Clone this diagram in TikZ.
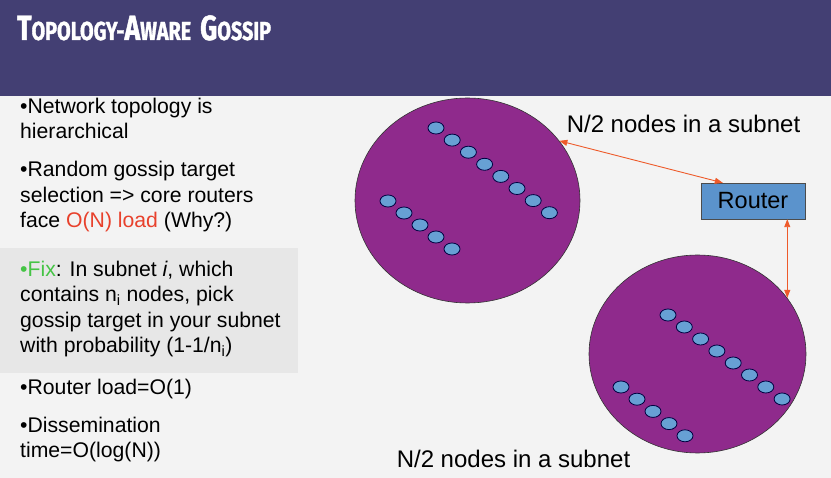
\documentclass[tikz,border=0pt]{standalone}
\usepackage{fontspec}
\setmainfont{Liberation Sans}
\newfontfamily\titlefont[FakeStretch=0.76,BoldFeatures={FakeBold=1.2}]{Fira Sans}
\usepackage{tikz}
\usetikzlibrary{arrows.meta,positioning,shapes.geometric}
\definecolor{banner}{HTML}{433F73}
\definecolor{slidebg}{HTML}{F3F3F3}
\definecolor{fixbg}{HTML}{E7E7E7}
\definecolor{subnetfill}{HTML}{8F2A8C}
\definecolor{hostfill}{HTML}{67A0D4}
\definecolor{routerfill}{HTML}{5B93CC}
\definecolor{linkred}{HTML}{EE5A2A}
\definecolor{loadred}{HTML}{E8412C}
\definecolor{fixgreen}{HTML}{45C445}
\newcommand{\capword}[2]{{\fontsize{35}{35}\selectfont #1}{\fontsize{26}{26}\selectfont #2}}
\tikzset{
  bullet/.style  ={anchor=base west,align=left,inner sep=0pt,font=\fontsize{21.2}{25.6}\selectfont},
  subnet/.style  ={draw=black!80,ellipse,fill=subnetfill,inner sep=0pt,line width=0.6pt},
  host/.style    ={draw=blue!25!black,ellipse,fill=hostfill,minimum width=16pt,minimum height=12pt,inner sep=0pt,line width=0.8pt},
  router/.style  ={draw=black!70,fill=routerfill,minimum width=104pt,minimum height=36pt,font=\fontsize{23.5}{26}\selectfont},
  caption/.style ={font=\fontsize{24}{28}\selectfont,inner sep=0pt},
  link/.style    ={{Triangle[length=8pt,width=6pt]}-{Triangle[length=8pt,width=6pt]},draw=linkred,line width=0.9pt}
}
\begin{document}
\begin{tikzpicture}[x=1pt,y=-1pt]
    \useasboundingbox (0,0) rectangle (831,478);
    \fill[slidebg] (0,0) rectangle (831,478);
    \fill[banner] (0,0) rectangle (831,96);
    \fill[fixbg] (0,248) rectangle (298,373);
    \node[anchor=base west,inner sep=0pt,text=white] (title) at (17,40)
      {\titlefont\bfseries \capword{T}{OPOLOGY-}\capword{A}{WARE}\hspace{9pt}\capword{G}{OSSIP}};
    % left column (anchored at the last line)
    \node[bullet] (topo)   at (20,139) {•Network topology is\\hierarchical};
    \node[bullet] (random) at (20,228) {•Random gossip target\\selection => core routers\\face \textcolor{loadred}{O(N) load} (Why?)};
    \node[bullet] (fix)    at (20,353) {\textcolor{fixgreen}{•Fix}: In subnet \textit{i}, which\\contains n\textsubscript{i} nodes, pick\\gossip target in your subnet\\with probability (1-1/n\textsubscript{i})};
    \node[bullet] (load)   at (20,395) {•Router load=O(1)};
    \node[bullet] (dissem) at (20,458) {•Dissemination\\time=O(log(N))};
    % subnets
    \node[subnet,minimum width=225pt,minimum height=205pt] (subnetA) at (467.5,200.5) {};
    \node[subnet,minimum width=217pt,minimum height=198pt] (subnetB) at (697.5,354) {};
    \foreach \i in {0,...,7} \node[host] (hostA\i) at (436+16.2*\i,128+12.1*\i) {};
    \foreach \i in {0,...,4} \node[host] (hostAA\i) at (388+16*\i,201+12*\i) {};
    \foreach \i in {0,...,7} \node[host] (hostB\i) at (668+16.3*\i,315+12*\i) {};
    \foreach \i in {0,...,4} \node[host] (hostBB\i) at (621+16*\i,387+12.2*\i) {};
    \node[router] (router) at (753,201) {Router};
    \node[caption] (capA) at (683.5,124) {N/2 nodes in a subnet};
    \node[caption] (capB) at (513.5,459) {N/2 nodes in a subnet};
    \draw[link] (subnetA.33) -- ([xshift=22pt]router.north west);
    \draw[link] (subnetB.32) -- (subnetB.32 |- router.south);
  \end{tikzpicture}
\end{document}
